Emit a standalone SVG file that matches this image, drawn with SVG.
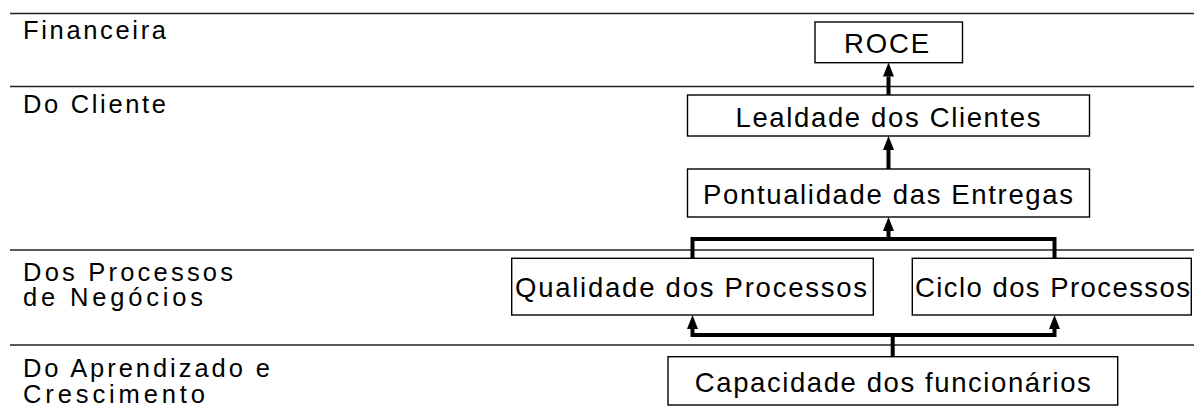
<svg xmlns="http://www.w3.org/2000/svg" width="1194" height="412" viewBox="0 0 1194 412">
<style>
text{font-family:"Liberation Sans",Arial,sans-serif;fill:#000}
.lbl{font-size:25.5px}
.bt{font-size:27.5px;text-anchor:middle}
.box{fill:#fff;stroke:#000;stroke-width:1.4}
.sep{stroke:#222;stroke-width:1.5}
.con{fill:none;stroke:#000;stroke-width:4;stroke-linejoin:miter}
</style>
<defs>
<marker id="ah" markerUnits="userSpaceOnUse" markerWidth="14" markerHeight="11" viewBox="0 0 14 11" refX="0" refY="5.5" orient="auto">
<path d="M0,0 L14,5.5 L0,11 z" fill="#000"/>
</marker>
</defs>
<g id="lanes">
<line class="sep" x1="10" y1="13.5" x2="1194" y2="13.5"/>
<line class="sep" x1="10" y1="86.5" x2="1194" y2="86.5"/>
<line class="sep" x1="10" y1="250" x2="1194" y2="250"/>
<line class="sep" x1="10" y1="345" x2="1194" y2="345"/>
<text class="lbl" x="23" y="39" textLength="143" lengthAdjust="spacing">Financeira</text>
<text class="lbl" x="23" y="112.5" textLength="143" lengthAdjust="spacing">Do Cliente</text>
<text class="lbl" x="23" y="281" textLength="210" lengthAdjust="spacing">Dos Processos</text>
<text class="lbl" x="23" y="305.5" textLength="180" lengthAdjust="spacing">de Negócios</text>
<text class="lbl" x="23" y="377" textLength="247" lengthAdjust="spacing">Do Aprendizado e</text>
<text class="lbl" x="23" y="402.5" textLength="182" lengthAdjust="spacing">Crescimento</text>
</g>
<g id="connectors">
<path class="con" d="M888.5,95 V76.5" marker-end="url(#ah)"/>
<path class="con" d="M888.5,169 V150" marker-end="url(#ah)"/>
<path class="con" d="M692.5,258 V239 H1054.5 V258"/>
<path class="con" d="M888.5,239 V231" marker-end="url(#ah)"/>
<path class="con" d="M892.7,356.7 V335"/>
<path class="con" d="M692.5,335 H1054.5"/>
<path class="con" d="M692.5,337 V329" marker-end="url(#ah)"/>
<path class="con" d="M1054.5,337 V329" marker-end="url(#ah)"/>
</g>
<g id="roce">
<rect class="box" x="815" y="22" width="147.5" height="40.7"/>
<text class="bt" x="886.5" y="53" textLength="85" lengthAdjust="spacing">ROCE</text>
</g>
<g id="lealdade">
<rect class="box" x="687.5" y="95" width="402" height="41"/>
<text class="bt" x="888" y="126.5" textLength="305" lengthAdjust="spacing">Lealdade dos Clientes</text>
</g>
<g id="pontualidade">
<rect class="box" x="687.5" y="169" width="402" height="48"/>
<text class="bt" x="888" y="203.5" textLength="370" lengthAdjust="spacing">Pontualidade das Entregas</text>
</g>
<g id="qualidade">
<rect class="box" x="511.7" y="258.3" width="361.6" height="56.7"/>
<text class="bt" x="691" y="297" textLength="352" lengthAdjust="spacing">Qualidade dos Processos</text>
</g>
<g id="ciclo">
<rect class="box" x="912.3" y="258.3" width="279" height="56.7"/>
<text class="bt" x="1052.5" y="297" textLength="275" lengthAdjust="spacing">Ciclo dos Processos</text>
</g>
<g id="capacidade">
<rect class="box" x="668" y="356.7" width="449.7" height="48.3"/>
<text class="bt" x="892.8" y="392" textLength="396" lengthAdjust="spacing">Capacidade dos funcionários</text>
</g>
</svg>
